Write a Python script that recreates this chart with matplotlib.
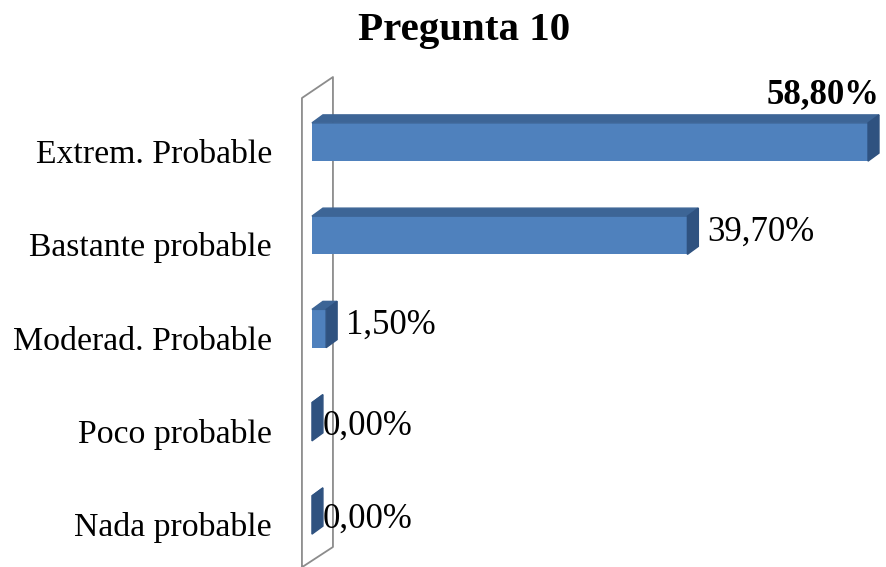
import matplotlib
matplotlib.use('Agg')
import matplotlib.pyplot as plt
import matplotlib.transforms as mtransforms
from matplotlib.patches import Polygon

plt.rcParams['font.family'] = ['Liberation Serif', 'DejaVu Serif']

# Answers to question 10 (percent of respondents)
categories = ['Extrem. Probable', 'Bastante probable', 'Moderad. Probable',
              'Poco probable', 'Nada probable']
values = [58.80, 39.70, 1.50, 0.00, 0.00]
value_labels = ['58,80%', '39,70%', '1,50%', '0,00%', '0,00%']
title = 'Pregunta 10'

FRONT = '#4F81BD'
TOP = '#3D6596'
SIDE = '#2F5280'
WALL = '#8C8C8C'

BAR_H = 0.41        # bar thickness in category units
DEPTH_X = 1.16      # 3D depth expressed in percent units
DEPTH_Y = 0.086     # 3D depth expressed in category units
FS = 25

fig = plt.figure(figsize=(8.86, 5.67), dpi=100)
ax = fig.add_axes([0.3521, 0.0259, 0.6404, 0.8223])
ax.set_xlim(0, 60)
ax.set_ylim(4.4, -0.6)
ax.axis('off')

# back wall drawn as a thin slanted panel behind the bars
wall_x = [-1.06, -1.06, 2.22, 2.22, -1.06]
wall_y = [4.6, -0.472, -0.697, 4.343, 4.56]
ax.plot(wall_x, wall_y, color=WALL, lw=1.3, clip_on=False, zorder=1)

for i, v in enumerate(values):
    top = i - BAR_H / 2
    bot = i + BAR_H / 2
    ax.barh(i, v, height=BAR_H, left=0, color=FRONT, zorder=3,
            edgecolor='none')
    ax.add_patch(Polygon([(0, top), (v, top), (v + DEPTH_X, top - DEPTH_Y),
                          (DEPTH_X, top - DEPTH_Y)],
                         closed=True, color=TOP, zorder=3, clip_on=False))
    ax.add_patch(Polygon([(v, top), (v, bot), (v + DEPTH_X, bot - DEPTH_Y),
                          (v + DEPTH_X, top - DEPTH_Y)],
                         closed=True, color=SIDE, zorder=3, clip_on=False))

# category labels to the left of the wall
lbl_tr = mtransforms.offset_copy(ax.transData, fig=fig, x=-40, y=-21,
                                 units='dots')
for i, name in enumerate(categories):
    ax.text(0, i, name, transform=lbl_tr, ha='right', va='baseline',
            fontsize=24.3, color='black', clip_on=False)

# value labels: the largest sits above its bar in bold
for i, (v, lab) in enumerate(zip(values, value_labels)):
    if i == 0:
        tr = mtransforms.offset_copy(ax.transData, fig=fig, x=0, y=12,
                                     units='dots')
        ax.text(v + DEPTH_X, i - BAR_H / 2 - DEPTH_Y, lab, transform=tr,
                ha='right', va='baseline', fontsize=FS, fontweight='bold',
                clip_on=False, zorder=5)
    else:
        dx, dy = (9, -5) if v > 0 else (0, -13)
        tr = mtransforms.offset_copy(ax.transData, fig=fig, x=dx, y=dy,
                                     units='dots')
        ax.text(v + DEPTH_X, i, lab, transform=tr, ha='left',
                va='baseline', fontsize=FS, clip_on=False, zorder=5)

fig.text(0.5237, 1 - 40 / 567, title, ha='center', va='baseline',
         fontsize=29.5, fontweight='bold')

fig.savefig('out.png', dpi=100, facecolor='white')
